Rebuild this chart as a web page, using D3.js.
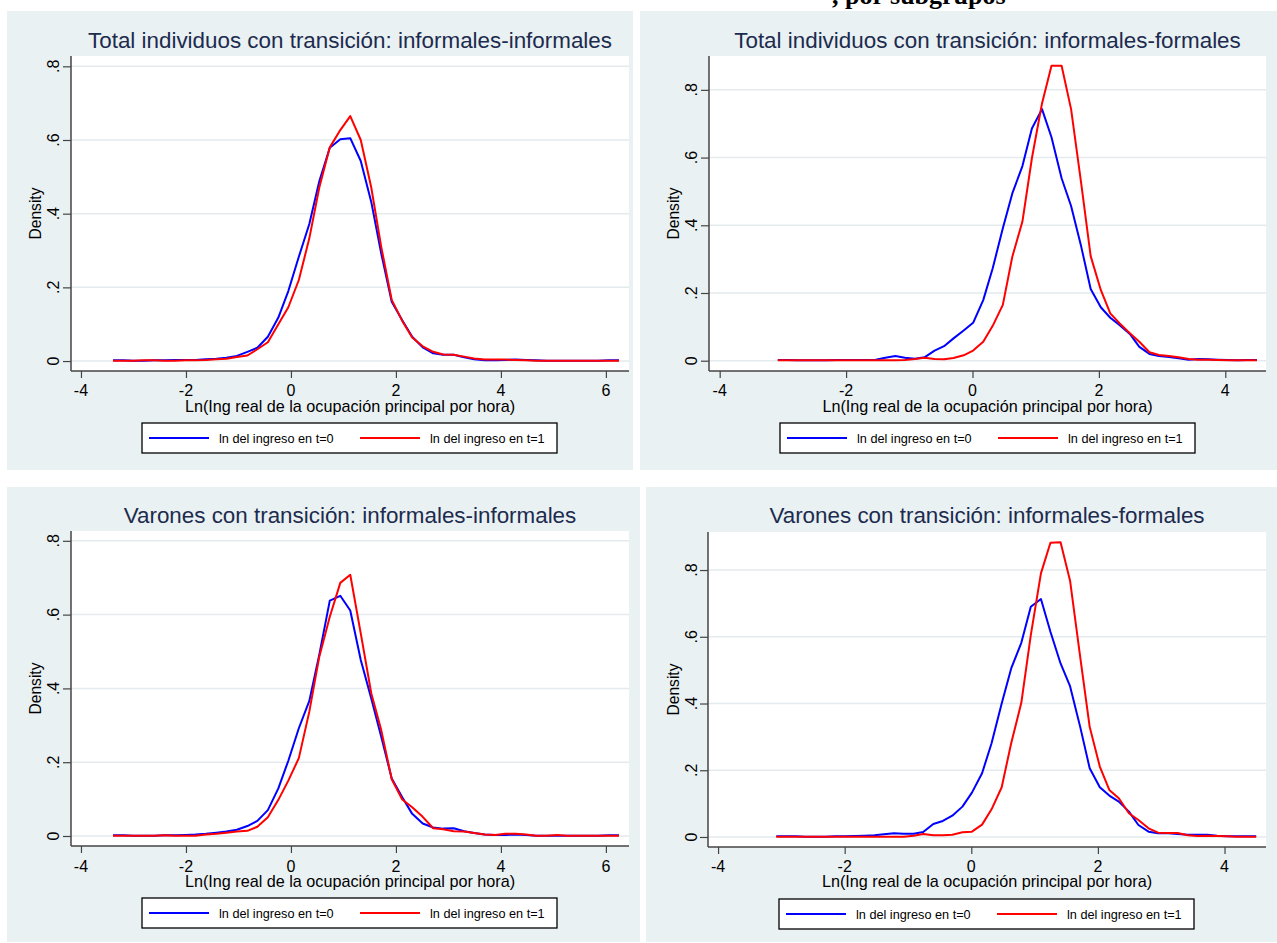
<!DOCTYPE html>
<html>
<head>
<meta charset="utf-8">
<script src="https://cdn.jsdelivr.net/npm/d3@7"></script>
<style>
  body { margin: 0; background: #fff; }
  svg text { font-family: Arial, "Liberation Sans", Helvetica, sans-serif; }
</style>
</head>
<body>
<div id="chart"></div>
<script>
// kdensity evaluation points (50 per panel)
var xLeft = [-3.39,-3.19,-3.00,-2.80,-2.60,-2.41,-2.21,-2.01,-1.82,-1.62,
             -1.42,-1.23,-1.03,-0.83,-0.64,-0.44,-0.24,-0.05,0.15,0.35,
             0.54,0.74,0.94,1.13,1.33,1.53,1.72,1.92,2.12,2.31,
             2.51,2.71,2.90,3.10,3.30,3.49,3.69,3.89,4.08,4.28,
             4.48,4.67,4.87,5.07,5.26,5.46,5.66,5.85,6.05,6.25];
var xRight = [-3.08,-2.93,-2.77,-2.62,-2.46,-2.31,-2.15,-2.00,-1.84,-1.69,
              -1.53,-1.38,-1.22,-1.07,-0.91,-0.76,-0.60,-0.45,-0.30,-0.14,
              0.01,0.17,0.32,0.48,0.63,0.79,0.94,1.10,1.25,1.41,
              1.56,1.72,1.87,2.03,2.18,2.33,2.49,2.64,2.80,2.95,
              3.11,3.26,3.42,3.57,3.73,3.88,4.04,4.19,4.35,4.50];

// Total individuos, informales-informales
var totInfInf0 = [0.002,0.002,0.001,0.001,0.002,0.002,0.003,0.003,0.003,0.005,
                  0.006,0.009,0.014,0.025,0.036,0.066,0.118,0.190,0.283,0.372,
                  0.488,0.579,0.602,0.605,0.543,0.432,0.292,0.161,0.111,0.066,
                  0.037,0.021,0.017,0.017,0.010,0.005,0.002,0.002,0.003,0.004,
                  0.003,0.002,0.001,0.001,0.001,0.001,0.001,0.001,0.002,0.002];
var totInfInf1 = [0.001,0.001,0.001,0.002,0.002,0.001,0.001,0.002,0.002,0.003,
                  0.005,0.006,0.011,0.015,0.032,0.051,0.100,0.146,0.220,0.333,
                  0.471,0.580,0.627,0.665,0.600,0.471,0.310,0.166,0.109,0.064,
                  0.040,0.025,0.018,0.017,0.012,0.007,0.004,0.004,0.004,0.003,
                  0.002,0.001,0.001,0.001,0.001,0.001,0.001,0.001,0.001,0.001];
// Total individuos, informales-formales
var totInfFor0 = [0.002,0.002,0.001,0.001,0.001,0.001,0.002,0.002,0.002,0.002,
                  0.003,0.009,0.014,0.009,0.006,0.010,0.030,0.043,0.066,0.089,
                  0.112,0.179,0.273,0.391,0.494,0.575,0.686,0.743,0.660,0.539,
                  0.457,0.337,0.212,0.158,0.127,0.105,0.079,0.041,0.020,0.014,
                  0.011,0.007,0.003,0.005,0.004,0.003,0.002,0.001,0.002,0.002];
var totInfFor1 = [0.001,0.001,0.001,0.001,0.001,0.001,0.001,0.001,0.001,0.001,
                  0.001,0.001,0.001,0.002,0.005,0.009,0.005,0.004,0.008,0.016,
                  0.030,0.056,0.103,0.165,0.307,0.411,0.598,0.760,0.871,0.871,
                  0.743,0.524,0.309,0.209,0.140,0.110,0.081,0.056,0.025,0.017,
                  0.014,0.010,0.005,0.003,0.003,0.002,0.001,0.001,0.001,0.001];
// Varones, informales-informales
var varInfInf0 = [0.002,0.002,0.001,0.001,0.001,0.002,0.002,0.003,0.004,0.006,
                  0.009,0.012,0.017,0.027,0.041,0.070,0.129,0.204,0.292,0.366,
                  0.491,0.638,0.651,0.611,0.477,0.373,0.269,0.156,0.105,0.060,
                  0.034,0.023,0.020,0.021,0.013,0.008,0.004,0.003,0.003,0.004,
                  0.003,0.001,0.001,0.001,0.001,0.001,0.001,0.001,0.002,0.002];
var varInfInf1 = [0.001,0.001,0.001,0.001,0.001,0.002,0.001,0.001,0.001,0.004,
                  0.006,0.009,0.012,0.014,0.025,0.051,0.098,0.150,0.211,0.337,
                  0.486,0.594,0.686,0.708,0.549,0.387,0.287,0.154,0.099,0.078,
                  0.052,0.021,0.018,0.013,0.012,0.008,0.004,0.003,0.006,0.006,
                  0.004,0.001,0.001,0.003,0.001,0.001,0.001,0.001,0.001,0.001];
// Varones, informales-formales
var varInfFor0 = [0.002,0.002,0.002,0.001,0.001,0.001,0.002,0.002,0.003,0.004,
                  0.005,0.008,0.011,0.010,0.010,0.015,0.039,0.048,0.064,0.091,
                  0.133,0.191,0.281,0.400,0.505,0.582,0.690,0.713,0.615,0.520,
                  0.452,0.330,0.206,0.149,0.124,0.106,0.076,0.036,0.016,0.011,
                  0.011,0.009,0.007,0.007,0.007,0.004,0.002,0.002,0.002,0.002];
var varInfFor1 = [0.001,0.001,0.001,0.001,0.001,0.001,0.001,0.001,0.001,0.001,
                  0.001,0.001,0.001,0.001,0.004,0.009,0.005,0.005,0.007,0.014,
                  0.016,0.037,0.083,0.149,0.281,0.402,0.605,0.790,0.882,0.883,
                  0.768,0.540,0.330,0.211,0.141,0.116,0.071,0.051,0.026,0.013,
                  0.012,0.012,0.005,0.003,0.004,0.003,0.002,0.001,0.001,0.001];

var titles = ["Total individuos con transición: informales-informales",
              "Total individuos con transición: informales-formales",
              "Varones con transición: informales-informales",
              "Varones con transición: informales-formales"];
var yTicks = [0, 0.2, 0.4, 0.6, 0.8];
var xTicksLeft = [-4, -2, 0, 2, 4, 6];
var xTicksRight = [-4, -2, 0, 2, 4];
var legendLabels = ["ln del ingreso en t=0", "ln del ingreso en t=1"];
var xTitle = "Ln(Ing real de la ocupación principal por hora)";
var yTitle = "Density";

var w = 1277, h = 943;
var bgColor = "#eaf1f3";
var gridColor = "#e3ebee";
var axisColor = "#444";
var titleColor = "#1c2b4e";
var lineColors = ["#0000ff", "#ff0000"];

var svg = d3.select("#chart")
  .append("svg")
  .attr("width", w)
  .attr("height", h);

//Header, mostly cut off at the top of the picture
svg.append("text")
  .attr("x", 832)
  .attr("y", 4)
  .style("font-family", "'Liberation Serif', 'Times New Roman', serif")
  .style("font-weight", "bold")
  .style("font-size", "26px")
  .text(", por subgrupos");

//Layout of the four panels
var panels = [
  {title: titles[0], xs: xLeft, series: [totInfInf0, totInfInf1], xTicks: xTicksLeft,
   bg: [7, 11, 633, 470], plot: {l: 71, t: 56, r: 629, b: 371},
   xDom: [-4.19, 6.44], yDom: [-0.027, 0.828],
   titleY: 48, tickY: 396, xTitleY: 412, legend: {x: 142, y: 423},
   yTickX: 59, yTitleX: 41},
  {title: titles[1], xs: xRight, series: [totInfFor0, totInfFor1], xTicks: xTicksRight,
   bg: [640, 11, 1277, 470], plot: {l: 709, t: 56, r: 1266, b: 371},
   xDom: [-4.169, 4.644], yDom: [-0.0304, 0.900],
   titleY: 48, tickY: 396, xTitleY: 412, legend: {x: 780, y: 423},
   yTickX: 697, yTitleX: 679},
  {title: titles[2], xs: xLeft, series: [varInfInf0, varInfInf1], xTicks: xTicksLeft,
   bg: [7, 487, 640, 942], plot: {l: 71, t: 531, r: 629, b: 846},
   xDom: [-4.19, 6.44], yDom: [-0.0271, 0.8266],
   titleY: 523, tickY: 872, xTitleY: 887, legend: {x: 142, y: 898},
   yTickX: 59, yTitleX: 41},
  {title: titles[3], xs: xRight, series: [varInfFor0, varInfFor1], xTicks: xTicksRight,
   bg: [646, 487, 1277, 942], plot: {l: 708, t: 532, r: 1266, b: 847},
   xDom: [-4.159, 4.655], yDom: [-0.030, 0.914],
   titleY: 523, tickY: 872, xTitleY: 887, legend: {x: 779, y: 899},
   yTickX: 697, yTitleX: 679}
];

var fmtY = function(d) {
  if (d == 0) return "0";
  return d3.format(".1f")(d).replace("0.", ".");
};

panels.forEach(function(p) {
  var g = svg.append("g");
  var pl = p.plot;

  //Panel background and plot region
  g.append("rect")
    .attr("x", p.bg[0]).attr("y", p.bg[1])
    .attr("width", p.bg[2] - p.bg[0]).attr("height", p.bg[3] - p.bg[1])
    .attr("fill", bgColor);
  g.append("rect")
    .attr("x", pl.l).attr("y", pl.t)
    .attr("width", pl.r - pl.l).attr("height", pl.b - pl.t)
    .attr("fill", "#fff");

  var x = d3.scaleLinear().domain(p.xDom).range([pl.l, pl.r]);
  var y = d3.scaleLinear().domain(p.yDom).range([pl.b, pl.t]);

  //Gridlines
  g.selectAll(".grid")
    .data(yTicks)
    .enter()
    .append("line")
    .attr("x1", pl.l).attr("x2", pl.r)
    .attr("y1", function(d) { return y(d); })
    .attr("y2", function(d) { return y(d); })
    .attr("stroke", gridColor)
    .attr("stroke-width", 1.5);

  //Density curves
  var line = d3.line()
    .x(function(d, i) { return x(p.xs[i]); })
    .y(function(d) { return y(d); });
  p.series.forEach(function(s, k) {
    g.append("path")
      .datum(s)
      .attr("d", line)
      .attr("fill", "none")
      .attr("stroke", lineColors[k])
      .attr("stroke-width", 2)
      .attr("stroke-linejoin", "round");
  });

  //Axes
  var xAxis = d3.axisBottom(x).tickValues(p.xTicks).tickSize(7).tickSizeOuter(0)
    .tickFormat(d3.format("d"));
  var gx = g.append("g").attr("transform", "translate(0," + pl.b + ")").call(xAxis);
  gx.select(".domain").attr("stroke", axisColor).attr("stroke-width", 1.5)
    .attr("d", "M" + pl.l + ",0H" + pl.r);
  gx.selectAll(".tick line").attr("stroke", axisColor).attr("stroke-width", 1.2);
  gx.selectAll(".tick text").remove();
  g.selectAll(".xtl")
    .data(p.xTicks)
    .enter()
    .append("text")
    .attr("x", function(d) { return x(d); })
    .attr("y", p.tickY)
    .attr("text-anchor", "middle")
    .style("font-size", "16px")
    .attr("fill", "#000")
    .text(function(d) { return d < 0 ? "-" + Math.abs(d) : d; });

  var yAxis = d3.axisLeft(y).tickValues(yTicks).tickSize(8).tickSizeOuter(0);
  var gy = g.append("g").attr("transform", "translate(" + pl.l + ",0)").call(yAxis);
  gy.select(".domain").attr("stroke", axisColor).attr("stroke-width", 1.5)
    .attr("d", "M0," + pl.t + "V" + pl.b);
  gy.selectAll(".tick line").attr("stroke", axisColor).attr("stroke-width", 1.2);
  gy.selectAll(".tick text").remove();
  g.selectAll(".ytl")
    .data(yTicks)
    .enter()
    .append("text")
    .attr("transform", function(d) { return "translate(" + p.yTickX + "," + y(d) + ") rotate(-90)"; })
    .attr("text-anchor", "middle")
    .style("font-size", "16px")
    .attr("fill", "#000")
    .text(fmtY);

  //Titles
  var cx = (pl.l + pl.r) / 2;
  g.append("text")
    .attr("x", cx).attr("y", p.titleY)
    .attr("text-anchor", "middle")
    .style("font-size", "22.4px")
    .attr("fill", titleColor)
    .text(p.title);
  g.append("text")
    .attr("x", cx).attr("y", p.xTitleY)
    .attr("text-anchor", "middle")
    .style("font-size", "16.2px")
    .attr("fill", "#000")
    .text(xTitle);
  g.append("text")
    .attr("transform", "translate(" + p.yTitleX + "," + ((pl.t + pl.b) / 2) + ") rotate(-90)")
    .attr("text-anchor", "middle")
    .style("font-size", "15.6px")
    .attr("fill", "#000")
    .text(yTitle);

  //Legend
  var lg = g.append("g").attr("transform", "translate(" + p.legend.x + "," + p.legend.y + ")");
  lg.append("rect")
    .attr("width", 415).attr("height", 30)
    .attr("fill", "#fff")
    .attr("stroke", "#000")
    .attr("stroke-width", 1.3);
  legendLabels.forEach(function(lab, k) {
    var ox = k * 211;
    lg.append("line")
      .attr("x1", 7 + ox).attr("x2", 67 + ox)
      .attr("y1", 15).attr("y2", 15)
      .attr("stroke", lineColors[k])
      .attr("stroke-width", 2);
    lg.append("text")
      .attr("x", 77 + ox).attr("y", 20)
      .style("font-size", "12.7px")
      .attr("fill", "#000")
      .text(lab);
  });
});
</script>
</body>
</html>
